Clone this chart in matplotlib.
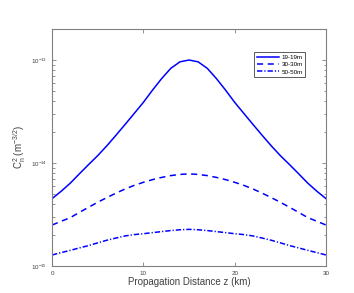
import matplotlib
matplotlib.use('Agg')
import matplotlib.pyplot as plt
import numpy as np

plt.rcParams['font.family'] = ['Liberation Sans', 'DejaVu Sans']
plt.rcParams['mathtext.fontset'] = 'custom'
plt.rcParams['mathtext.rm'] = 'Liberation Sans'

# propagation distance (km)
z = list(range(0, 31))

# Cn^2 values in units of 1e-15
cn_19 = [4.51, 5.32, 6.38, 7.87, 9.66, 11.8, 14.7, 18.6, 23.7, 30.3, 38.8,
         51.0, 66.0, 83.0, 96.0, 100.0, 96.0, 83.0, 66.0, 51.0, 38.8,
         30.3, 23.7, 18.6, 14.7, 11.8, 9.66, 7.87, 6.38, 5.32, 4.51]
cn_30 = [2.50, 2.72, 2.95, 3.32, 3.72, 4.16, 4.62, 5.10, 5.60, 6.07, 6.50,
         6.90, 7.25, 7.55, 7.75, 7.85, 7.75, 7.55, 7.25, 6.90, 6.50,
         6.07, 5.60, 5.10, 4.62, 4.16, 3.72, 3.32, 2.95, 2.72, 2.50]
cn_50 = [1.28, 1.35, 1.42, 1.50, 1.58, 1.68, 1.78, 1.87, 1.96, 2.02, 2.06,
         2.11, 2.16, 2.21, 2.25, 2.27, 2.25, 2.21, 2.16, 2.11, 2.06,
         2.02, 1.96, 1.87, 1.78, 1.68, 1.58, 1.50, 1.42, 1.35, 1.28]
labels = ['19-19m', '30-30m', '50-50m']

fig = plt.figure(figsize=(3.54, 2.93), dpi=100)
ax = fig.add_axes([0.147, 0.092, 0.774, 0.809])

ax.semilogy(z, np.array(cn_19) * 1e-15, '-', color='#0000ff', lw=1.1, label=labels[0])
ax.semilogy(z, np.array(cn_30) * 1e-15, '--', color='#0000ff', lw=1.1, dashes=(4, 3), label=labels[1])
ax.semilogy(z, np.array(cn_50) * 1e-15, '-.', color='#0000ff', lw=1.1,
            dashes=(3.5, 1.3, 0.8, 1.3), label=labels[2])

ax.set_xlim(0, 30)
ax.set_ylim(1e-15, 2e-13)
ax.set_xticks([0, 10, 20, 30])
ax.set_yticks([1e-15, 1e-14, 1e-13])

for s in ax.spines.values():
    s.set_color('#808080')
    s.set_linewidth(0.8)
ax.tick_params(which='both', direction='in', top=True, right=True,
               colors='#808080', labelcolor='#404040', labelsize=4.5, width=0.6)
ax.tick_params(which='major', length=3)
ax.tick_params(which='minor', length=1.8)

ax.set_xlabel('Propagation Distance z (km)', fontsize=7, color='#404040', labelpad=1)
ax.set_ylabel(r'C$_\mathrm{n}^\mathrm{2}$ (m$^{\mathrm{-3/2}}$)', fontsize=7, color='#404040', labelpad=2)

leg = ax.legend(loc='upper right', bbox_to_anchor=(0.935, 0.915), fontsize=4.5,
                fancybox=False, framealpha=1, edgecolor='#404040',
                handlelength=3.6, borderpad=0.4, labelspacing=0.3, handletextpad=0.3)
leg.get_frame().set_linewidth(0.6)

fig.savefig('out.png', dpi=100)
